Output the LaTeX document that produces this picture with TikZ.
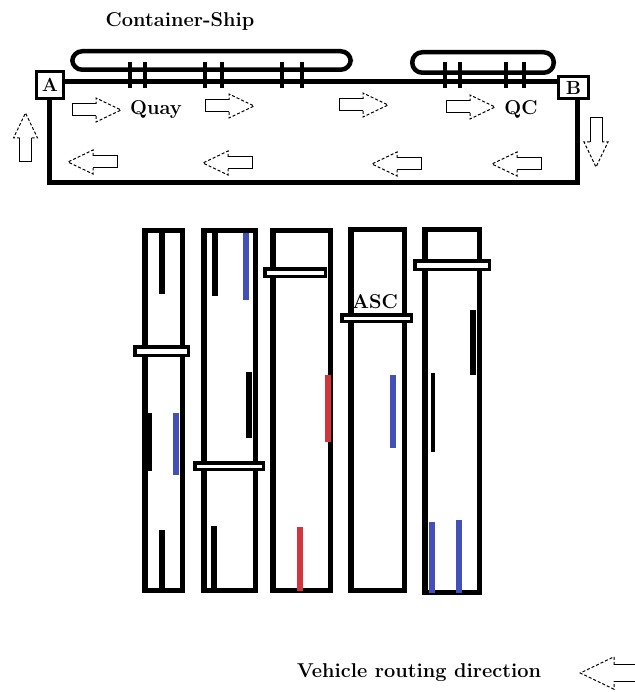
\documentclass[tikz,border=0pt]{standalone}
\usepackage{tikz}
\usetikzlibrary{positioning}
\definecolor{contblue}{RGB}{66,80,184}
\definecolor{contred}{RGB}{212,52,60}

\begin{document}
\begin{tikzpicture}[x=1pt,y=-1pt,
    label node/.style={font=\fontsize{20}{24}\selectfont\bfseries,inner sep=0pt,anchor=base},
    corner node/.style={draw,line width=3.5pt,fill=white,font=\fontsize{19}{22}\selectfont\bfseries,inner sep=0pt},
    ship/.style={draw,line width=4.5pt,rounded corners=10pt},
    crane/.style={line width=4.5pt},
    yard/.style={draw,line width=5.5pt},
    gantry/.style={draw,line width=3.5pt,fill=white},
    quay line/.style={line width=5pt},
    flow/.pic={
      \draw[line width=1pt] (0,-6) -- (-24,-6) -- (-24,6) -- (0,6);
      \draw[line width=1pt,densely dashed] (0,6) -- (0,12) -- (25,0) -- (0,-12) -- (0,-6);
    }]
  \useasboundingbox (0,0) rectangle (634,692);

  % ships and quay
  \node[label node] (shiplabel) at (180,27) {Container-Ship};
  \draw[ship] (72.25,51.25) rectangle (350.75,69.75);
  \draw[ship] (412.25,52.25) rectangle (553.75,72.75);
  \draw[quay line] (49,82) rectangle (577,183);
  \foreach \cx in {130,145,205,222,282,302,445,460,506,524}
    \draw[crane] (\cx,62) -- (\cx,88);
  \node[corner node,minimum width=27pt,minimum height=27pt] (a) at (50,85) {A};
  \node[corner node,minimum width=30pt,minimum height=22pt] (b) at (573.5,87.5) {B};
  \node[label node] (quay) at (156,115) {Quay};
  \node[label node] (qc) at (521,115) {QC};

  % traffic directions
  \foreach \px/\py in {96/110,229/106,363/105,470/107}
    \pic at (\px,\py) {flow};
  \foreach \px/\py in {93/162,228/163,397/164,517/164}
    \pic[rotate=180] at (\px,\py) {flow};
  \pic[rotate=90] at (25.5,138) {flow};
  \pic[rotate=-90] at (596,142) {flow};

  % yard blocks
  \foreach \l/\r/\t/\b in {144.75/182.25/230.75/590.25,203.75/255.25/230.75/590.25,272.75/330.25/230.75/590.25,350.75/404.25/229.75/590.25,424.75/479.25/229.75/592.25}
    \draw[yard] (\l,\t) rectangle (\r,\b);

  % containers
  \foreach \cx/\ya/\yb/\col/\w in {162/233/294/black/5.5,147/413/471/black/9,176/413/475/contblue/5.5,162/530/591/black/5.5,
      215/233/296/black/5.5,246/233/300/contblue/5.5,249/372/438/black/5.5,214/526/591/black/5.5,
      328/375/442/contred/5.5,300/527/591/contred/5.5,393/375/448/contblue/5.5,
      473/310/375/black/5.5,433/373/452/black/3.3,432/522/593/contblue/5.5,459/520/593/contblue/5.5}
    \draw[line width=\w pt,\col] (\cx,\ya) -- (\cx,\yb);

  % ASC gantries
  \foreach \l/\r/\t/\b in {134.75/188.25/346.75/355.25,194.75/263.25/462.75/469.25,264.75/325.25/268.75/276.25,341.75/411.25/314.75/321.25,414.75/489.25/260.75/269.25}
    \draw[gantry] (\l,\t) rectangle (\r,\b);
  \node[label node] (asc) at (375,308) {ASC};

  % legend
  \node[label node] (routing) at (419,677) {Vehicle routing direction};
  \pic[scale=1.35,rotate=180] at (614,673) {flow};
\end{tikzpicture}
\end{document}
